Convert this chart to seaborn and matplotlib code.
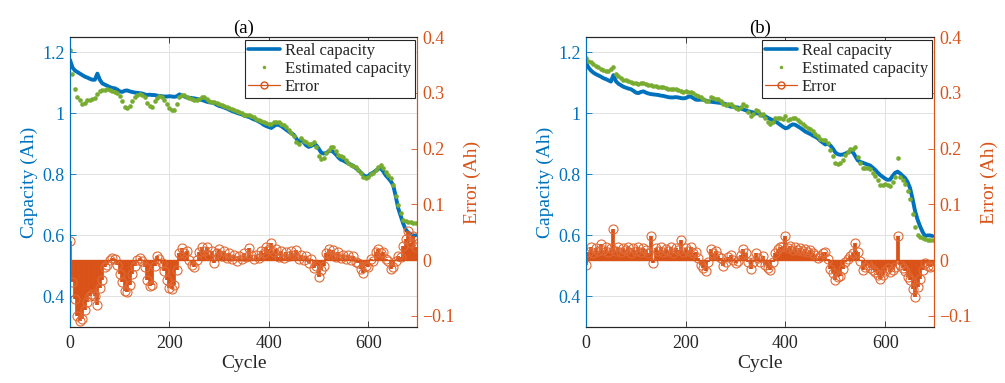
import numpy as np
import pandas as pd
import matplotlib
matplotlib.use("Agg")
import matplotlib.pyplot as plt
import seaborn as sns
from matplotlib.lines import Line2D

# ---------------- data ----------------
cycles = np.arange(0, 700, 5)

real_a = [
    1.175, 1.150, 1.140, 1.135, 1.130, 1.125, 1.120, 1.117, 1.113, 1.110,
    1.110, 1.130, 1.110, 1.098, 1.094, 1.090, 1.086, 1.083, 1.082, 1.078,
    1.072, 1.070, 1.074, 1.075, 1.072, 1.070, 1.068, 1.067, 1.066, 1.065,
    1.062, 1.060, 1.061, 1.060, 1.060, 1.058, 1.057, 1.056, 1.055, 1.055,
    1.056, 1.055, 1.054, 1.056, 1.062, 1.058, 1.055, 1.052, 1.051, 1.050,
    1.049, 1.047, 1.045, 1.044, 1.041, 1.038, 1.036, 1.035, 1.033, 1.028,
    1.024, 1.022, 1.019, 1.016, 1.012, 1.008, 1.005, 1.002, 0.999, 0.997,
    0.993, 0.990, 0.988, 0.984, 0.980, 0.977, 0.973, 0.968, 0.962, 0.958,
    0.955, 0.952, 0.958, 0.963, 0.962, 0.958, 0.952, 0.946, 0.940, 0.935,
    0.930, 0.918, 0.905, 0.915, 0.905, 0.895, 0.890, 0.893, 0.897, 0.896,
    0.885, 0.872, 0.868, 0.870, 0.875, 0.878, 0.873, 0.865, 0.855, 0.848,
    0.845, 0.840, 0.836, 0.832, 0.828, 0.820, 0.814, 0.806, 0.798, 0.792,
    0.795, 0.802, 0.806, 0.812, 0.818, 0.820, 0.810, 0.797, 0.788, 0.778,
    0.765, 0.730, 0.690, 0.665, 0.640, 0.620, 0.610, 0.605, 0.600, 0.600,
]
est_a = [
    1.208, 1.130, 1.080, 1.055, 1.042, 1.030, 1.035, 1.042, 1.043, 1.047,
    1.050, 1.062, 1.072, 1.077, 1.078, 1.079, 1.078, 1.074, 1.071, 1.068,
    1.058, 1.040, 1.022, 1.018, 1.025, 1.040, 1.055, 1.060, 1.063, 1.060,
    1.055, 1.035, 1.024, 1.022, 1.040, 1.050, 1.056, 1.055, 1.045, 1.032,
    1.018, 1.012, 1.012, 1.030, 1.055, 1.060, 1.060, 1.055, 1.050, 1.047,
    1.045, 1.044, 1.048, 1.053, 1.055, 1.048, 1.040, 1.038, 1.036, 1.033,
    1.030, 1.027, 1.025, 1.020, 1.017, 1.013, 1.010, 1.009, 1.005, 1.000,
    0.996, 0.995, 0.993, 0.990, 0.987, 0.983, 0.978, 0.974, 0.970, 0.967,
    0.965, 0.966, 0.970, 0.973, 0.970, 0.965, 0.962, 0.955, 0.945, 0.935,
    0.925, 0.905, 0.900, 0.918, 0.910, 0.905, 0.898, 0.900, 0.905, 0.890,
    0.860, 0.850, 0.855, 0.870, 0.880, 0.890, 0.890, 0.875, 0.865, 0.860,
    0.856, 0.848, 0.838, 0.832, 0.828, 0.824, 0.814, 0.803, 0.792, 0.787,
    0.793, 0.800, 0.806, 0.815, 0.825, 0.830, 0.820, 0.809, 0.798, 0.787,
    0.765, 0.730, 0.700, 0.672, 0.652, 0.648, 0.645, 0.643, 0.642, 0.642,
]
err_a = [
    0.035, -0.040, -0.070, -0.100, -0.110, -0.105, -0.090, -0.075, -0.065, -0.060,
    -0.065, -0.080, -0.050, -0.035, -0.012, -0.008, 0.000, 0.004, 0.002, -0.008,
    -0.025, -0.040, -0.055, -0.058, -0.045, -0.025, -0.010, 0.000, 0.004, -0.002,
    -0.012, -0.035, -0.047, -0.045, -0.010, 0.007, 0.002, -0.005, -0.020, -0.035,
    -0.050, -0.052, -0.044, -0.018, 0.012, 0.022, 0.012, 0.016, 0.000, -0.008,
    -0.012, 0.000, 0.014, 0.024, 0.016, 0.024, 0.010, 0.016, -0.006, 0.012,
    0.020, 0.008, 0.016, 0.004, 0.012, 0.002, 0.010, -0.002, 0.008, 0.002,
    0.012, 0.006, 0.022, 0.010, 0.002, 0.010, 0.004, 0.016, 0.012, 0.024,
    0.020, 0.030, 0.014, 0.020, 0.006, 0.016, 0.004, 0.014, 0.008, 0.016,
    0.010, 0.018, 0.002, 0.010, 0.000, 0.008, -0.006, 0.002, -0.014, -0.010,
    -0.030, -0.018, -0.010, 0.012, 0.020, 0.010, 0.018, 0.006, 0.014, 0.004,
    0.010, 0.002, 0.010, 0.000, 0.008, -0.004, -0.006, -0.016, -0.024, -0.010,
    -0.012, 0.002, -0.002, 0.014, 0.020, 0.012, 0.014, 0.002, -0.002, -0.016,
    -0.012, -0.002, 0.008, 0.006, 0.026, 0.038, 0.052, 0.030, 0.044, 0.024,
]

real_b = [
    1.165, 1.150, 1.140, 1.133, 1.128, 1.124, 1.120, 1.115, 1.112, 1.108,
    1.104, 1.125, 1.105, 1.097, 1.092, 1.087, 1.084, 1.081, 1.079, 1.074,
    1.068, 1.066, 1.070, 1.072, 1.068, 1.065, 1.063, 1.062, 1.061, 1.060,
    1.058, 1.057, 1.055, 1.053, 1.052, 1.052, 1.053, 1.052, 1.050, 1.049,
    1.050, 1.054, 1.055, 1.050, 1.045, 1.044, 1.045, 1.044, 1.042, 1.040,
    1.038, 1.037, 1.036, 1.035, 1.034, 1.033, 1.030, 1.026, 1.022, 1.021,
    1.020, 1.019, 1.016, 1.013, 1.010, 1.007, 1.005, 1.003, 1.000, 1.000,
    0.997, 0.992, 0.990, 0.985, 0.981, 0.977, 0.973, 0.968, 0.962, 0.956,
    0.951, 0.953, 0.960, 0.964, 0.962, 0.957, 0.952, 0.946, 0.940, 0.936,
    0.932, 0.927, 0.923, 0.918, 0.910, 0.904, 0.898, 0.900, 0.895, 0.885,
    0.872, 0.866, 0.864, 0.865, 0.868, 0.872, 0.875, 0.874, 0.860, 0.846,
    0.841, 0.838, 0.835, 0.832, 0.829, 0.822, 0.815, 0.806, 0.798, 0.792,
    0.786, 0.782, 0.783, 0.795, 0.805, 0.809, 0.803, 0.795, 0.788, 0.775,
    0.755, 0.720, 0.680, 0.652, 0.630, 0.612, 0.598, 0.600, 0.600, 0.598,
]
est_b = [
    1.180, 1.172, 1.168, 1.160, 1.155, 1.152, 1.146, 1.142, 1.140, 1.138,
    1.144, 1.152, 1.130, 1.122, 1.115, 1.110, 1.108, 1.105, 1.104, 1.100,
    1.098, 1.096, 1.098, 1.099, 1.097, 1.094, 1.093, 1.090, 1.088, 1.087,
    1.086, 1.085, 1.083, 1.080, 1.079, 1.080, 1.079, 1.077, 1.074, 1.071,
    1.072, 1.071, 1.071, 1.065, 1.060, 1.056, 1.052, 1.046, 1.040, 1.040,
    1.052, 1.050, 1.047, 1.046, 1.040, 1.030, 1.026, 1.030, 1.030, 1.024,
    1.016, 1.014, 1.022, 1.030, 1.024, 1.003, 0.990, 0.998, 1.010, 1.006,
    0.994, 0.998, 0.984, 0.972, 0.966, 0.972, 0.985, 0.986, 0.986, 0.981,
    0.992, 0.978, 0.982, 0.984, 0.984, 0.977, 0.970, 0.966, 0.959, 0.953,
    0.948, 0.941, 0.933, 0.925, 0.916, 0.914, 0.911, 0.904, 0.880, 0.860,
    0.837, 0.833, 0.836, 0.847, 0.863, 0.874, 0.882, 0.884, 0.891, 0.858,
    0.837, 0.821, 0.821, 0.822, 0.817, 0.805, 0.795, 0.780, 0.766, 0.764,
    0.768, 0.766, 0.763, 0.775, 0.791, 0.852, 0.793, 0.783, 0.768, 0.747,
    0.720, 0.670, 0.628, 0.602, 0.595, 0.592, 0.588, 0.586, 0.585, 0.585,
]
err_b = [
    -0.008, 0.015, 0.024, 0.012, 0.022, 0.016, 0.028, 0.018, 0.024, 0.014,
    0.022, 0.056, 0.016, 0.024, 0.014, 0.022, 0.018, 0.024, 0.012, 0.022,
    0.016, 0.024, 0.014, 0.022, 0.018, 0.012, 0.044, -0.005, 0.022, 0.016,
    0.024, 0.014, 0.020, 0.016, 0.024, 0.012, 0.022, 0.018, 0.036, 0.014,
    0.022, 0.016, 0.024, 0.012, 0.014, 0.004, -0.008, -0.014, -0.020, -0.004,
    0.020, 0.012, 0.016, 0.008, 0.004, -0.010, -0.004, 0.006, 0.010, 0.000,
    -0.006, -0.002, 0.010, 0.020, 0.012, -0.004, -0.016, -0.004, 0.012, 0.004,
    -0.004, 0.008, -0.008, -0.014, -0.018, -0.004, 0.012, 0.020, 0.024, 0.026,
    0.043, 0.022, 0.026, 0.018, 0.024, 0.018, 0.022, 0.016, 0.020, 0.014,
    0.018, 0.012, 0.010, 0.004, 0.008, 0.012, 0.014, 0.002, -0.016, -0.024,
    -0.036, -0.030, -0.028, -0.016, -0.004, 0.002, 0.008, 0.012, 0.031, 0.014,
    -0.002, -0.018, -0.012, -0.008, -0.014, -0.018, -0.022, -0.026, -0.034, -0.026,
    -0.020, -0.014, -0.022, -0.018, -0.012, 0.043, -0.008, -0.014, -0.020, -0.030,
    -0.036, -0.052, -0.066, -0.048, -0.034, -0.018, -0.006, -0.010, -0.012, -0.010,
]

titles = ["(a)", "(b)"]
legend_labels = ["Real capacity", "Estimated capacity", "Error"]
x_ticks = [0, 200, 400, 600]
cap_ticks = [0.4, 0.6, 0.8, 1.0, 1.2]
cap_tick_labels = ["0.4", "0.6", "0.8", "1", "1.2"]
err_ticks = [-0.1, 0.0, 0.1, 0.2, 0.3, 0.4]
err_tick_labels = ["\u22120.1", "0", "0.1", "0.2", "0.3", "0.4"]

# ---------------- style ----------------
C_BLUE = "#0072BD"
C_ORANGE = "#D95319"
C_GREEN = "#77AC30"
C_DARK = "#262626"

sns.set_style("ticks")
plt.rcParams["font.family"] = ["Liberation Serif", "DejaVu Serif"]

fig = plt.figure(figsize=(10.05, 3.83), dpi=100)

rects = [
    [70 / 1005, 1 - 327 / 383, 347 / 1005, 290 / 383],
    [586 / 1005, 1 - 327 / 383, 348 / 1005, 290 / 383],
]
datasets = [(real_a, est_a, err_a), (real_b, est_b, err_b)]

for rect, (real, est, err), title in zip(rects, datasets, titles):
    df = pd.DataFrame({"Cycle": cycles, "Real": real, "Est": est, "Err": err})
    ax = fig.add_axes(rect)
    sns.lineplot(data=df, x="Cycle", y="Real", ax=ax, color=C_BLUE, lw=2.8, zorder=3)
    sns.scatterplot(data=df, x="Cycle", y="Est", ax=ax, color=C_GREEN, s=11,
                    linewidth=0, zorder=4)
    ax.set_xlim(0, 698)
    ax.set_ylim(0.3, 1.25)
    ax.set_xticks(x_ticks)
    ax.set_yticks(cap_ticks)
    ax.set_yticklabels(cap_tick_labels)
    ax.grid(True, color="#e2e2e2", lw=0.7)
    ax.set_axisbelow(True)
    ax.set_xlabel("Cycle", fontsize=14, color=C_DARK, labelpad=2)
    ax.set_ylabel("Capacity (Ah)", fontsize=14, color=C_BLUE, labelpad=3)
    ax.set_title(title, fontsize=13.5, color="black", pad=3)
    ax.tick_params(axis="x", direction="in", colors=C_DARK, labelsize=13,
                   top=True, length=4, width=0.6, pad=6)
    ax.tick_params(axis="y", direction="in", colors=C_BLUE, labelsize=13,
                   length=4, width=0.6, pad=4)

    ax2 = ax.twinx()
    ml, sl, bl = ax2.stem(df["Cycle"], df["Err"], linefmt="-", markerfmt="o",
                          basefmt="-")
    sl.set_color(C_ORANGE)
    sl.set_linewidth(2.7)
    sl.set_capstyle("butt")
    ml.set_markerfacecolor("none")
    ml.set_markeredgecolor("#E06A35")
    ml.set_markersize(6.5)
    ml.set_markeredgewidth(0.8)
    bl.set_color(C_ORANGE)
    bl.set_linewidth(1.0)
    ax2.set_ylim(-0.12, 0.4)
    ax2.set_yticks(err_ticks)
    ax2.set_yticklabels(err_tick_labels)
    ax2.set_ylabel("Error (Ah)", fontsize=14, color=C_ORANGE, labelpad=6)
    ax2.tick_params(axis="y", direction="in", colors=C_ORANGE, labelsize=13,
                    length=4, width=0.6, pad=4)
    ax2.set_xlim(0, 698)

    for a in (ax, ax2):
        for s in a.spines.values():
            s.set_linewidth(0.8)
        a.spines["top"].set_color(C_DARK)
        a.spines["bottom"].set_color(C_DARK)
        a.spines["left"].set_color(C_BLUE)
        a.spines["right"].set_color(C_ORANGE)
        a.spines["top"].set_visible(True)
        a.spines["right"].set_visible(True)

    handles = [
        Line2D([], [], color=C_BLUE, lw=2.6),
        Line2D([], [], color=C_GREEN, marker=".", ls="none", ms=3),
        Line2D([], [], color=C_ORANGE, lw=0.9, marker="o", mfc="none", ms=5),
    ]
    leg = ax2.legend(handles, legend_labels, loc="upper right",
                     bbox_to_anchor=(1.0, 1.0), borderaxespad=0.15,
                     frameon=True, fancybox=False, edgecolor=C_DARK,
                     framealpha=1, fontsize=12, handlelength=1.9,
                     handletextpad=0.3, labelspacing=0.12, borderpad=0.2)
    leg.get_frame().set_linewidth(0.8)
    leg.set_zorder(10)
    for t in leg.get_texts():
        t.set_color(C_DARK)

fig.savefig("out.png", dpi=100)
